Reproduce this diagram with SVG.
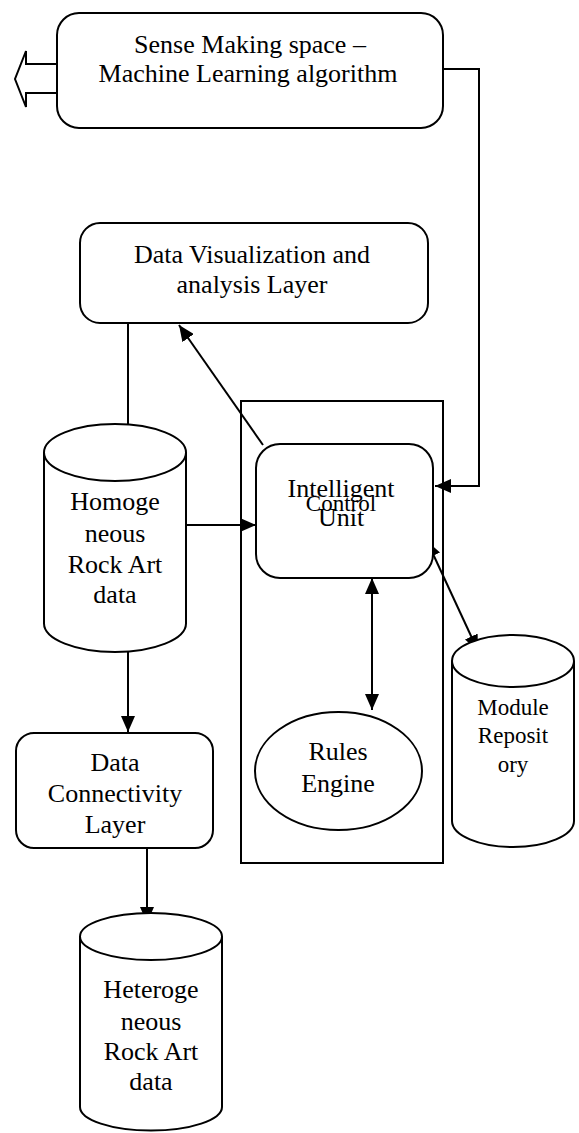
<svg xmlns="http://www.w3.org/2000/svg" width="579" height="1133" viewBox="0 0 579 1133">
<style>
.shape{fill:#fff;stroke:#000;stroke-width:2}
.line{fill:none;stroke:#000;stroke-width:2}
.lbl{font-family:'Liberation Serif','Times New Roman','DejaVu Serif',serif;font-size:26px;fill:#000;text-anchor:middle}
.sm{font-size:23px}
</style>
<defs>
<marker id="arr" viewBox="0 0 16 14" refX="16" refY="7" markerWidth="16" markerHeight="14" markerUnits="userSpaceOnUse" orient="auto-start-reverse">
<path d="M0,0 L16,7 L0,14 z" fill="#000"/>
</marker>
</defs>
<rect width="579" height="1133" fill="#fff"/>

<g id="control-boundary">
<rect x="241" y="401" width="202" height="462" fill="none" stroke="#000" stroke-width="2"/>
</g>

<g id="connectors">
<polygon class="shape" stroke-width="1.5" points="57,64 26,64 26,51 15,79 26,107 26,93 57,93"/>
<polyline class="line" points="443,69 479,69 479,486 435,486" marker-end="url(#arr)"/>
<line class="line" x1="128" y1="323" x2="128" y2="424"/>
<line class="line" x1="263" y1="445" x2="179" y2="325" marker-end="url(#arr)"/>
<line class="line" x1="186" y1="525" x2="256" y2="525" marker-end="url(#arr)"/>
<line class="line" x1="372" y1="578" x2="372" y2="710" marker-start="url(#arr)" marker-end="url(#arr)"/>
<line class="line" x1="427" y1="541" x2="478" y2="651" marker-start="url(#arr)" marker-end="url(#arr)"/>
<line class="line" x1="128" y1="652" x2="128" y2="732" marker-end="url(#arr)"/>
<line class="line" x1="147" y1="848" x2="147" y2="923" marker-end="url(#arr)"/>
</g>

<g id="sense-making">
<rect class="shape" x="57" y="13" width="386" height="115" rx="22"/>
<text class="lbl" x="250" y="53">Sense Making space –</text>
<text class="lbl" x="248" y="82">Machine Learning algorithm</text>
</g>

<g id="data-visualization">
<rect class="shape" x="80" y="223" width="348" height="100" rx="20"/>
<text class="lbl" x="252" y="263">Data Visualization and</text>
<text class="lbl" x="252" y="293">analysis Layer</text>
</g>

<g id="homogeneous-data">
<path class="shape" d="M44,452.5 A71,28.5 0 0 1 186,452.5 L186,623.5 A71,28.5 0 0 1 44,623.5 Z"/>
<path class="line" d="M44,452.5 A71,28.5 0 0 0 186,452.5"/>
<text class="lbl" x="115" y="510">Homoge</text>
<text class="lbl" x="115" y="542">neous</text>
<text class="lbl" x="115" y="573">Rock Art</text>
<text class="lbl" x="115" y="603">data</text>
</g>

<g id="intelligent-control-unit">
<rect class="shape" x="256" y="444" width="177" height="134" rx="24"/>
<text class="lbl" x="341" y="497">Intelligent</text>
<text class="lbl sm" x="341" y="511">Control</text>
<text class="lbl" x="341" y="526">Unit</text>
</g>

<g id="rules-engine">
<ellipse class="shape" cx="338.5" cy="771" rx="83.5" ry="59"/>
<text class="lbl" x="338" y="760">Rules</text>
<text class="lbl" x="338" y="792">Engine</text>
</g>

<g id="module-repository">
<path class="shape" d="M452,661 A61,26 0 0 1 574,661 L574,821 A61,26 0 0 1 452,821 Z"/>
<path class="line" d="M452,661 A61,26 0 0 0 574,661"/>
<text class="lbl sm" x="513" y="715">Module</text>
<text class="lbl sm" x="513" y="743">Reposit</text>
<text class="lbl sm" x="513" y="772">ory</text>
</g>

<g id="data-connectivity">
<rect class="shape" x="16" y="733" width="197" height="115" rx="18"/>
<text class="lbl" x="115" y="771">Data</text>
<text class="lbl" x="115" y="802">Connectivity</text>
<text class="lbl" x="115" y="833">Layer</text>
</g>

<g id="heterogeneous-data">
<path class="shape" d="M80,936.5 A71,23.5 0 0 1 222,936.5 L222,1107 A71,23.5 0 0 1 80,1107 Z"/>
<path class="line" d="M80,936.5 A71,23.5 0 0 0 222,936.5"/>
<text class="lbl" x="151" y="998">Heteroge</text>
<text class="lbl" x="151" y="1030">neous</text>
<text class="lbl" x="151" y="1060">Rock Art</text>
<text class="lbl" x="151" y="1090">data</text>
</g>
</svg>
